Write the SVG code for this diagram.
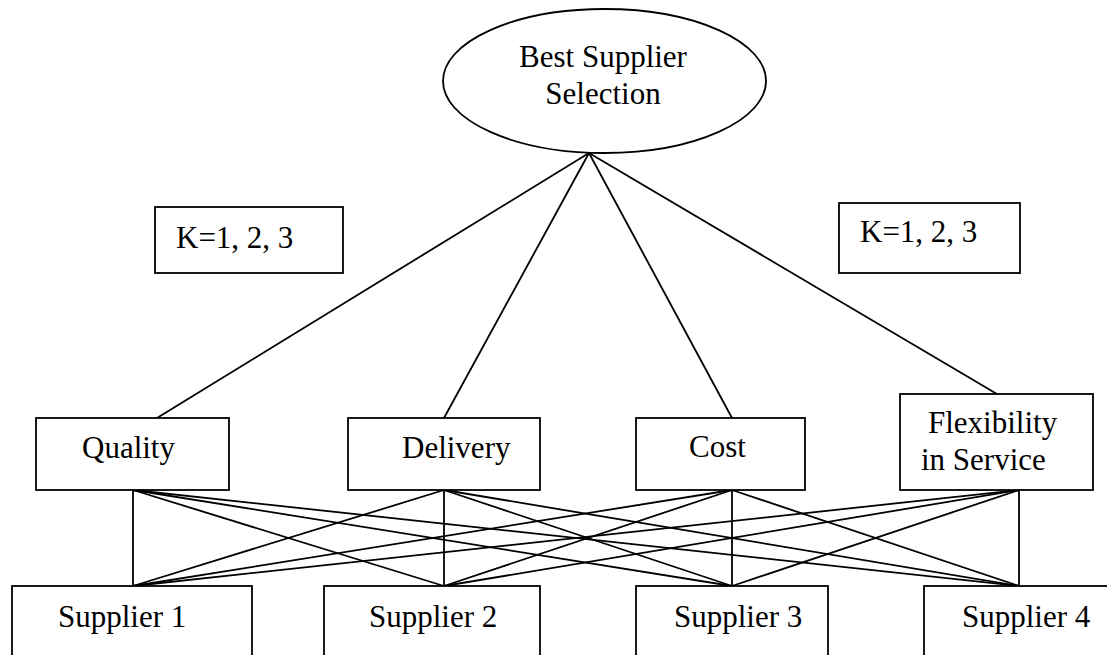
<svg xmlns="http://www.w3.org/2000/svg" width="1107" height="655" viewBox="0 0 1107 655">
<style>
.s{fill:#fff;stroke:#000;stroke-width:1.8}
.l{stroke:#000;stroke-width:1.8;fill:none}
text{font-family:"Liberation Serif","Times New Roman",serif;font-size:31px;fill:#000}
</style>
<rect width="1107" height="655" fill="#fff"/>
<g id="connectors" class="l">
<line x1="589" y1="153" x2="157" y2="418"/>
<line x1="589" y1="153" x2="444" y2="418"/>
<line x1="589" y1="153" x2="732" y2="418"/>
<line x1="589" y1="153" x2="997" y2="394"/>
<line x1="133" y1="490" x2="133" y2="586"/>
<line x1="133" y1="490" x2="444" y2="586"/>
<line x1="133" y1="490" x2="732" y2="586"/>
<line x1="133" y1="490" x2="1019" y2="586"/>
<line x1="444" y1="490" x2="133" y2="586"/>
<line x1="444" y1="490" x2="444" y2="586"/>
<line x1="444" y1="490" x2="732" y2="586"/>
<line x1="444" y1="490" x2="1019" y2="586"/>
<line x1="732" y1="490" x2="133" y2="586"/>
<line x1="732" y1="490" x2="444" y2="586"/>
<line x1="732" y1="490" x2="732" y2="586"/>
<line x1="732" y1="490" x2="1019" y2="586"/>
<line x1="1019" y1="490" x2="133" y2="586"/>
<line x1="1019" y1="490" x2="444" y2="586"/>
<line x1="1019" y1="490" x2="732" y2="586"/>
<line x1="1019" y1="490" x2="1019" y2="586"/>
</g>
<g id="goal"><ellipse class="s" cx="604.5" cy="81" rx="161.5" ry="72"/><text x="603" y="67" text-anchor="middle">Best Supplier</text><text x="603" y="104" text-anchor="middle">Selection</text></g>
<g id="k-left"><rect class="s" x="155" y="207" width="188" height="66"/><text x="176" y="248">K=1, 2, 3</text></g>
<g id="k-right"><rect class="s" x="839" y="203" width="181" height="70"/><text x="860" y="242">K=1, 2, 3</text></g>
<g id="quality"><rect class="s" x="36" y="418" width="193" height="72"/><text x="82" y="458">Quality</text></g>
<g id="delivery"><rect class="s" x="348" y="418" width="192" height="72"/><text x="402" y="458">Delivery</text></g>
<g id="cost"><rect class="s" x="636" y="418" width="169" height="72"/><text x="689" y="457">Cost</text></g>
<g id="flexibility"><rect class="s" x="900" y="394" width="193" height="96"/><text x="928" y="433">Flexibility</text><text x="921" y="470">in Service</text></g>
<g id="supplier1"><rect class="s" x="12" y="586" width="240" height="80"/><text x="58" y="627">Supplier 1</text></g>
<g id="supplier2"><rect class="s" x="324" y="586" width="216" height="80"/><text x="369" y="627">Supplier 2</text></g>
<g id="supplier3"><rect class="s" x="636" y="586" width="192" height="80"/><text x="674" y="627">Supplier 3</text></g>
<g id="supplier4"><rect class="s" x="924" y="586" width="200" height="80"/><text x="962" y="627">Supplier 4</text></g>
</svg>
